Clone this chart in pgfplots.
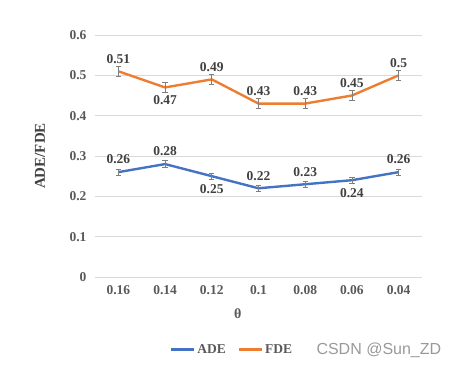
\documentclass[border=0pt]{standalone}
\usepackage{fontspec}
\setmainfont{Liberation Serif}
\newfontfamily\wmfont{Liberation Sans}
\usepackage{pgfplots}
\pgfplotsset{compat=1.18}
\usepackage{pgfplotstable}
\definecolor{adeblue}{HTML}{4472C4}
\definecolor{fdeorange}{HTML}{ED7D31}
\definecolor{gridgray}{HTML}{D9D9D9}
\definecolor{ticklab}{HTML}{595959}
\definecolor{datalab}{HTML}{404040}
\definecolor{errgray}{HTML}{7F7F7F}

\pgfplotstableread{
x y e
0 0.26 0.008
1 0.28 0.008
2 0.25 0.008
3 0.22 0.008
4 0.23 0.008
5 0.24 0.008
6 0.26 0.008
}\ade
\pgfplotstableread{
x y e
0 0.51 0.012
1 0.47 0.012
2 0.49 0.012
3 0.43 0.012
4 0.43 0.012
5 0.45 0.012
6 0.50 0.012
}\fde

\pgfplotsset{myerr/.style={error bars/.cd, y dir=both, y explicit,
  error bar style={errgray, line width=0.8pt},
  error mark options={rotate=90, mark size=2.6bp, errgray, line width=0.8pt}},
  lbl/.style={draw=none, mark=none, forget plot, nodes near coords, point meta=explicit symbolic,
  every node near coord/.append style={anchor=#1, outer sep=7bp, inner sep=1bp,
    font=\fontsize{13.5bp}{16bp}\selectfont\bfseries, text=datalab}}}

\begin{document}
\begin{tikzpicture}
\useasboundingbox (0,0) rectangle (457bp,374bp);
\begin{axis}[
  at={(95bp,97bp)}, anchor=south west,
  scale only axis, width=327bp, height=242bp,
  xmin=-0.5, xmax=6.5, ymin=0, ymax=0.6,
  xtick={0,1,2,3,4,5,6},
  xticklabels={0.16,0.14,0.12,0.1,0.08,0.06,0.04},
  ytick={0,0.1,0.2,0.3,0.4,0.5,0.6},
  yticklabels={0,0.1,0.2,0.3,0.4,0.5,0.6},
  axis line style={draw=none},
  major tick length=0pt,
  ymajorgrids, grid style={gridgray, line width=0.8pt},
  tick label style={font=\fontsize{13.5bp}{16bp}\selectfont\bfseries, text=ticklab},
  xticklabel shift=5bp, yticklabel shift=5bp,
  xlabel={θ},
  xlabel style={at={(axis description cs:0.437,-0.153)}, anchor=center, font=\fontsize{14bp}{16bp}\selectfont\bfseries, text=ticklab},
  ylabel={ADE/FDE},
  ylabel style={at={(axis description cs:-0.168,0.5)}, anchor=center, rotate=0, font=\fontsize{15bp}{18bp}\selectfont\bfseries, text=datalab},
  legend style={at={(axis description cs:0.419,-0.30)}, anchor=center, draw=none, fill=none,
    legend columns=2, font=\fontsize{13.5bp}{16bp}\selectfont\bfseries, text=ticklab,
    /tikz/every even column/.append style={column sep=10bp}},
  legend image code/.code={\draw[#1, line width=2.4pt] (0bp,0bp) -- (23bp,0bp);},
]
\addplot[adeblue, line width=2.4pt, mark=none, myerr]
  table[x=x, y=y, y error=e] {\ade};
\addlegendentry{ADE}
\addplot[fdeorange, line width=2.4pt, mark=none, myerr]
  table[x=x, y=y, y error=e] {\fde};
\addlegendentry{FDE}
% data labels
\addplot[lbl=south] coordinates {(0,0.26)[0.26] (1,0.28)[0.28] (3,0.22)[0.22] (4,0.23)[0.23] (6,0.26)[0.26]};
\addplot[lbl=north] coordinates {(2,0.25)[0.25] (5,0.24)[0.24]};
\addplot[lbl=south] coordinates {(0,0.51)[0.51] (2,0.49)[0.49] (3,0.43)[0.43] (4,0.43)[0.43] (5,0.45)[0.45] (6,0.50)[0.5]};
\addplot[lbl=north] coordinates {(1,0.47)[0.47]};
\end{axis}
\node[anchor=west, text=black!40, font=\wmfont\fontsize{16bp}{18bp}\selectfont] at (313bp,24bp) {CSDN @Sun\_ZD};
\end{tikzpicture}
\end{document}
